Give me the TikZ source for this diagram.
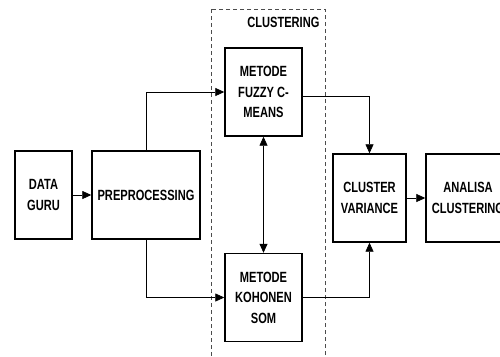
\documentclass[tikz,border=0pt]{standalone}
\usepackage{fontspec}
\setmainfont{Liberation Sans}[FakeStretch=0.75]
\usetikzlibrary{arrows.meta}
\tikzstyle{blok} = [draw, line width=1.4pt, align=center, inner sep=0pt, minimum height=88]
\tikzstyle{alur} = [draw, line width=0.7pt, -{Triangle[length=9pt,width=8pt]}]
\tikzstyle{grup} = [draw=black!70, line width=0.8pt, dash pattern=on 4pt off 3pt]

\begin{document}
\begin{tikzpicture}[x=1pt,y=-1pt]
\tikzstyle{every node}=[font=\fontsize{14.8}{20.5}\selectfont\bfseries]
\useasboundingbox (0,0) rectangle (500,356);
\clip (0,0) rectangle (500,356);

% kotak clustering
\draw[grup] (211,9) rectangle (325,370);
\node[anchor=east] (judul) at (323,22) {CLUSTERING};

\node[blok, minimum width=57] (data) at (43.5,195) {DATA\\GURU};
\node[blok, minimum width=108] (prep) at (146,195) {PREPROCESSING};
\node[blok, minimum width=77] (fcm) at (263.5,92) {METODE\\FUZZY C-\\MEANS};
\node[blok, minimum width=77] (som) at (263.5,297.5) {METODE\\KOHONEN\\SOM};
\node[blok, minimum width=73] (cv) at (369.5,198) {CLUSTER\\VARIANCE};
\node[blok, minimum width=84] (analisa) at (468,198) {ANALISA\\CLUSTERING};

\draw[alur] (data) -- (prep);
\draw[alur] (prep.north) |- (fcm.west);
\draw[alur] (prep.south) |- (som.west);
\draw[alur, {Triangle[length=9pt,width=8pt]}-{Triangle[length=9pt,width=8pt]}] (fcm.south) -- (som.north);
\draw[alur] ([yshift=-4]fcm.east) -| (cv.north);
\draw[alur] (som.east) -| (cv.south);
\draw[alur] (cv) -- (analisa);
\end{tikzpicture}
\end{document}
